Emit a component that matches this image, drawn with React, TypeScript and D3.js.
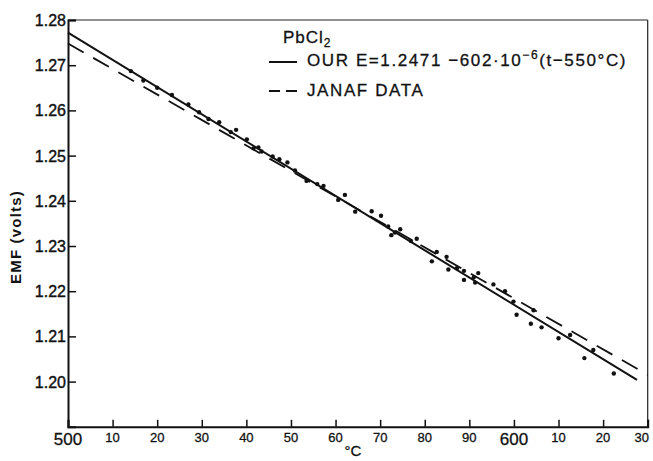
import React, { useEffect, useRef } from 'react';
import * as d3 from 'd3';

// measured EMF points (temperature °C, volts)
const tempC = [
  514.1, 516.9, 520.0, 523.3, 527.0, 529.4, 531.5, 533.9, 536.5, 537.7,
  540.1, 541.6, 542.7, 543.4, 545.9, 547.4, 549.2, 550.9, 553.5, 555.9,
  557.3, 560.6, 562.1, 564.4, 568.1, 570.2, 571.8, 572.5, 573.3, 574.5,
  576.9, 578.2, 581.6, 582.7, 584.9, 585.3, 587.2, 588.8, 588.8, 591.0,
  591.3, 592.0, 595.4, 598.0, 599.9, 600.6, 603.8, 604.4, 606.2, 610.0,
  612.6, 615.8, 617.8, 622.4,
];
const emfVolts = [
  1.2687, 1.2666, 1.265, 1.2634, 1.2613, 1.2596, 1.2581, 1.2574, 1.2552, 1.2557,
  1.2536, 1.2516, 1.2518, 1.2509, 1.2498, 1.2492, 1.2485, 1.2467, 1.2444, 1.2437,
  1.2433, 1.2402, 1.2413, 1.2376, 1.2377, 1.2367, 1.2343, 1.2324, 1.233, 1.2337,
  1.2311, 1.2316, 1.2266, 1.2287, 1.2276, 1.2248, 1.2251, 1.2245, 1.2225, 1.2231,
  1.2219, 1.224, 1.2215, 1.22, 1.2177, 1.2148, 1.2128, 1.2158, 1.212, 1.2096,
  1.2103, 1.2052, 1.207, 1.2018,
];

// fitted line: E = 1.2471 - 602e-6 (t - 550)
const fitT = [500, 627.6];
const fitE = [1.2772, 1.2004];
// JANAF data line
const janafT = [500, 630];
const janafE = [1.2748, 1.2015];

const xTicks = [500, 510, 520, 530, 540, 550, 560, 570, 580, 590, 600, 610, 620, 630];
const yTicks = [1.2, 1.21, 1.22, 1.23, 1.24, 1.25, 1.26, 1.27, 1.28];

const W = 653;
const H = 461;
const FONT = '"Liberation Sans", Arial, sans-serif';

const App = () => {
  const svgRef = useRef<SVGSVGElement>(null);

  useEffect(() => {
    const svg = d3.select(svgRef.current);
    svg.selectAll('*').remove();

    const left = 68, right = 647.7, top = 20, bottom = 426.8;
    const x = d3.scaleLinear().domain([500, 630]).range([left, right]);
    const y = d3.scaleLinear().domain([1.19, 1.28]).range([bottom, top]);

    svg.append('rect').attr('width', W).attr('height', H).attr('fill', '#fff');

    // frame
    svg.append('line').attr('x1', left).attr('x2', right).attr('y1', top).attr('y2', top)
      .attr('stroke', '#222').attr('stroke-width', 1);
    svg.append('line').attr('x1', right).attr('x2', right).attr('y1', top).attr('y2', bottom)
      .attr('stroke', '#222').attr('stroke-width', 1.2);

    // x axis
    const xAxis = svg.append('g')
      .attr('transform', `translate(0,${bottom})`)
      .call(d3.axisBottom(x).tickValues(xTicks).tickSize(-7).tickFormat(() => ''));
    xAxis.select('.domain').attr('stroke', '#111').attr('stroke-width', 2);
    xAxis.selectAll('.tick line').attr('stroke', '#111').attr('stroke-width', 1.5);

    svg.append('g').selectAll('text').data(xTicks).join('text')
      .attr('x', d => (d === 630 ? x(d) - 6 : x(d)))
      .attr('y', d => (d % 100 === 0 ? 445 : 442))
      .attr('text-anchor', 'middle')
      .attr('font-family', FONT)
      .attr('font-size', d => (d % 100 === 0 ? 17 : 13))
      .attr('fill', '#111')
      .attr('stroke', '#111')
      .attr('stroke-width', 0.3)
      .text(d => (d % 100 === 0 ? String(d) : String(d % 100)));

    // y axis
    const yAxis = svg.append('g')
      .attr('transform', `translate(${left},0)`)
      .call(d3.axisLeft(y).tickValues(yTicks).tickSize(-8).tickFormat(() => ''));
    yAxis.select('.domain').attr('stroke', '#111').attr('stroke-width', 2);
    yAxis.selectAll('.tick line').attr('stroke', '#111').attr('stroke-width', 1.5);

    svg.append('g').selectAll('text').data(yTicks).join('text')
      .attr('x', 66)
      .attr('y', d => y(d) + 6)
      .attr('text-anchor', 'end')
      .attr('font-family', FONT)
      .attr('font-size', 16)
      .attr('fill', '#111')
      .attr('stroke', '#111')
      .attr('stroke-width', 0.4)
      .text(d => d3.format('.2f')(d));

    // axis titles
    svg.append('text')
      .attr('transform', 'translate(21,237) rotate(-90)')
      .attr('text-anchor', 'middle')
      .attr('font-family', FONT)
      .attr('font-size', 15)
      .attr('font-weight', 'bold')
      .attr('letter-spacing', 1.2)
      .attr('fill', '#111')
      .text('EMF (volts)');
    svg.append('text')
      .attr('x', 353).attr('y', 456)
      .attr('text-anchor', 'middle')
      .attr('font-family', FONT)
      .attr('font-size', 15)
      .attr('fill', '#111')
      .attr('stroke', '#111')
      .attr('stroke-width', 0.3)
      .text('°C');

    const line = d3.line<[number, number]>().x(d => x(d[0])).y(d => y(d[1]));

    svg.append('path')
      .datum(janafT.map((t, i) => [t, janafE[i]] as [number, number]))
      .attr('d', line)
      .attr('fill', 'none')
      .attr('stroke', '#111')
      .attr('stroke-width', 1.8)
      .attr('stroke-dasharray', '18,11');

    svg.append('path')
      .datum(fitT.map((t, i) => [t, fitE[i]] as [number, number]))
      .attr('d', line)
      .attr('fill', 'none')
      .attr('stroke', '#111')
      .attr('stroke-width', 2);

    svg.append('g').selectAll('circle').data(tempC).join('circle')
      .attr('cx', d => x(d))
      .attr('cy', (d, i) => y(emfVolts[i]))
      .attr('r', 2.2)
      .attr('fill', '#111');

    // legend
    const lg = svg.append('g').attr('font-family', FONT).attr('fill', '#111')
      .attr('stroke', '#111').attr('stroke-width', 0.3);
    const pb = lg.append('text').attr('x', 283).attr('y', 43).attr('font-size', 17)
      .attr('letter-spacing', 1);
    pb.append('tspan').text('PbCl');
    pb.append('tspan').attr('font-size', 12).attr('dy', 4).text('2');

    lg.append('line').attr('x1', 269).attr('x2', 297).attr('y1', 62).attr('y2', 62)
      .attr('stroke', '#111').attr('stroke-width', 2);
    const eq = lg.append('text').attr('x', 307).attr('y', 66).attr('font-size', 17)
      .attr('letter-spacing', 1.6);
    eq.append('tspan').text('OUR  E=1.2471  −602·10');
    eq.append('tspan').attr('font-size', 12).attr('dy', -7).text('−6');
    eq.append('tspan').attr('dy', 7).text('(t−550°C)');

    lg.append('line').attr('x1', 269).attr('x2', 297).attr('y1', 91).attr('y2', 91)
      .attr('stroke', '#111').attr('stroke-width', 1.8).attr('stroke-dasharray', '11,6');
    lg.append('text').attr('x', 307).attr('y', 96).attr('font-size', 17)
      .attr('letter-spacing', 1.6).text('JANAF DATA');
  }, []);

  return (
    <svg
      ref={svgRef}
      width={W}
      height={H}
      style={{ position: 'absolute', left: 0, top: 0 }}
    ></svg>
  );
};

export default App;
